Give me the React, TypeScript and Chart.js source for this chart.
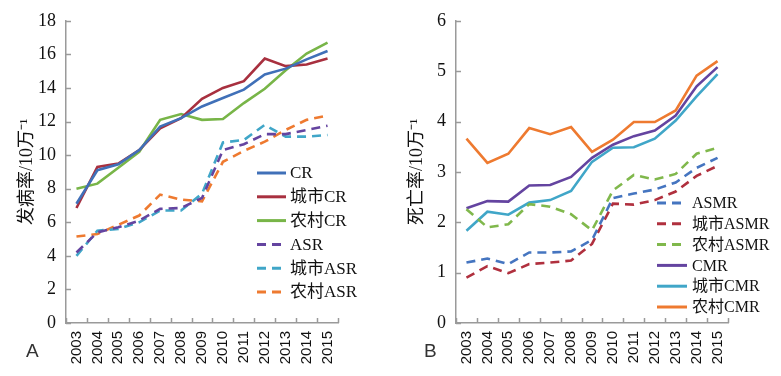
import React, { useEffect, useRef } from "react";
import { Chart, registerables } from "chart.js";
Chart.register(...registerables);

// ---------- data ----------
const years = ["2003", "2004", "2005", "2006", "2007", "2008", "2009", "2010", "2011", "2012", "2013", "2014", "2015"];

// Panel A: incidence (1/100,000)
const crAll = [7.1, 9.1, 9.45, 10.3, 11.7, 12.2, 12.9, 13.4, 13.9, 14.8, 15.15, 15.7, 16.2];
const crUrban = [6.85, 9.3, 9.5, 10.3, 11.6, 12.2, 13.35, 14.0, 14.4, 15.75, 15.3, 15.4, 15.75];
const crRural = [8.0, 8.3, 9.25, 10.2, 12.1, 12.45, 12.1, 12.15, 13.1, 13.95, 15.05, 16.05, 16.7];
const asrAll = [4.2, 5.4, 5.7, 6.1, 6.8, 6.85, 7.45, 10.3, 10.65, 11.25, 11.25, 11.5, 11.75];
const asrUrban = [4.0, 5.5, 5.6, 6.0, 6.7, 6.7, 7.7, 10.75, 10.9, 11.8, 11.1, 11.1, 11.2];
const asrRural = [5.15, 5.3, 5.85, 6.4, 7.65, 7.35, 7.25, 9.6, 10.25, 10.8, 11.5, 12.1, 12.35];
const ticksA = [0, 2, 4, 6, 8, 10, 12, 14, 16, 18];

// Panel B: mortality (1/100,000)
const asmrAll = [1.2, 1.28, 1.17, 1.4, 1.4, 1.42, 1.65, 2.48, 2.57, 2.65, 2.79, 3.08, 3.28];
const asmrUrban = [0.9, 1.13, 0.99, 1.17, 1.2, 1.24, 1.57, 2.37, 2.35, 2.44, 2.61, 2.92, 3.12];
const asmrRural = [2.26, 1.9, 1.96, 2.36, 2.31, 2.16, 1.84, 2.63, 2.94, 2.85, 2.96, 3.36, 3.48];
const cmrAll = [2.28, 2.42, 2.41, 2.73, 2.74, 2.9, 3.28, 3.54, 3.71, 3.82, 4.12, 4.7, 5.08];
const cmrUrban = [1.83, 2.21, 2.15, 2.39, 2.44, 2.62, 3.2, 3.48, 3.49, 3.66, 4.02, 4.5, 4.94];
const cmrRural = [3.66, 3.18, 3.36, 3.87, 3.75, 3.89, 3.4, 3.64, 3.99, 3.99, 4.22, 4.91, 5.2];
const ticksB = [0, 1, 2, 3, 4, 5, 6];

// ---------- styles ----------
const AXIS_COLOR = "#9a9a9a";
const TEXT_COLOR = "#111111";
const SERIF = "'Liberation Serif', 'Noto Sans CJK SC', serif";
const DASH = [9, 6];

const C = {
  blue: "#4070b8",
  red: "#a8303f",
  green: "#78b548",
  purple: "#6444a0",
  cyan: "#40a6c8",
  orange: "#ee7a30",
};

type Series = { label: string; data: number[]; color: string; dashed: boolean };

const seriesA: Series[] = [
  { label: "CR", data: crAll, color: C.blue, dashed: false },
  { label: "城市CR", data: crUrban, color: C.red, dashed: false },
  { label: "农村CR", data: crRural, color: C.green, dashed: false },
  { label: "ASR", data: asrAll, color: C.purple, dashed: true },
  { label: "城市ASR", data: asrUrban, color: C.cyan, dashed: true },
  { label: "农村ASR", data: asrRural, color: C.orange, dashed: true },
];

const seriesB: Series[] = [
  { label: "ASMR", data: asmrAll, color: "#4575c0", dashed: true },
  { label: "城市ASMR", data: asmrUrban, color: "#b0303e", dashed: true },
  { label: "农村ASMR", data: asmrRural, color: "#80b84c", dashed: true },
  { label: "CMR", data: cmrAll, color: C.purple, dashed: false },
  { label: "城市CMR", data: cmrUrban, color: C.cyan, dashed: false },
  { label: "农村CMR", data: cmrRural, color: C.orange, dashed: false },
];

// inward tick marks on both axes
const inwardTicks = {
  id: "inwardTicks",
  afterDraw(chart: any) {
    const { ctx, chartArea, scales } = chart;
    const xs = scales.x;
    const ys = scales.y;
    ctx.save();
    ctx.strokeStyle = AXIS_COLOR;
    ctx.lineWidth = 1.5;
    ctx.beginPath();
    const n = chart.data.labels.length;
    for (let i = 0; i <= n; i++) {
      const px = Math.round(xs.getPixelForValue(i - 0.5)) + 0.5;
      ctx.moveTo(px, chartArea.bottom);
      ctx.lineTo(px, chartArea.bottom - 5);
    }
    ys.ticks.forEach((t: any) => {
      const py = Math.round(ys.getPixelForValue(t.value)) + 0.5;
      ctx.moveTo(chartArea.left, py);
      ctx.lineTo(chartArea.left + 5, py);
    });
    ctx.stroke();
    ctx.restore();
  },
};

// custom legend drawn inside plot area
const insideLegend = {
  id: "insideLegend",
  afterDraw(chart: any, _args: any, opts: any) {
    const { ctx } = chart;
    ctx.save();
    ctx.font = `${opts.fontSize}px ${SERIF}`;
    ctx.textBaseline = "middle";
    ctx.fillStyle = TEXT_COLOR;
    chart.data.datasets.forEach((ds: any, i: number) => {
      const y = opts.y + i * opts.spacing;
      ctx.strokeStyle = ds.borderColor;
      ctx.lineWidth = 3;
      ctx.setLineDash(ds.borderDash || []);
      ctx.beginPath();
      ctx.moveTo(opts.x, y);
      ctx.lineTo(opts.x + opts.lineLen, y);
      ctx.stroke();
      ctx.setLineDash([]);
      ctx.fillText(ds.label, opts.x + opts.lineLen + opts.gap, y + 1);
    });
    ctx.restore();
  },
};

type PanelProps = {
  series: Series[];
  ticks: number[];
  max: number;
  title: string;
  legend: { x: number; y: number; spacing: number; lineLen: number; gap: number; fontSize: number };
  width: number;
  letter: string;
};

function Panel({ series, ticks, max, title, legend, width, letter }: PanelProps) {
  const ref = useRef<HTMLCanvasElement>(null);
  useEffect(() => {
    if (!ref.current) return;
    const chart = new Chart(ref.current, {
      type: "line",
      data: {
        labels: years,
        datasets: series.map((s) => ({
          label: s.label,
          data: s.data,
          borderColor: s.color,
          backgroundColor: s.color,
          borderWidth: 2.6,
          borderDash: s.dashed ? DASH : [],
          pointRadius: 0,
          tension: 0,
          fill: false,
        })),
      },
      options: {
        responsive: false,
        animation: false,
        devicePixelRatio: 1,
        layout: { padding: { left: 0, top: 19, right: width - 338, bottom: 0 } },
        plugins: {
          legend: { display: false },
          tooltip: { enabled: false },
          insideLegend: legend,
        } as any,
        scales: {
          x: {
            type: "category",
            offset: true,
            grid: { display: false, drawTicks: false, offset: true },
            border: { display: true, color: AXIS_COLOR, width: 1.5 },
            ticks: {
              minRotation: 90,
              maxRotation: 90,
              autoSkip: false,
              padding: 8,
              color: TEXT_COLOR,
              font: { family: "'Liberation Sans', Arial, sans-serif", size: 15 },
            },
            afterFit: (s: any) => {
              s.height = 376 - 323;
            },
          },
          y: {
            min: 0,
            max,
            afterBuildTicks: (s: any) => {
              s.ticks = ticks.map((v) => ({ value: v }));
            },
            grid: { display: false, drawTicks: false },
            border: { display: true, color: AXIS_COLOR, width: 1.5 },
            ticks: {
              padding: 10,
              color: TEXT_COLOR,
              font: { family: SERIF, size: 18 },
            },
            title: {
              display: true,
              text: title,
              color: TEXT_COLOR,
              padding: { top: 16, bottom: 0 },
              font: { family: SERIF, size: 18 },
            },
            afterFit: (s: any) => {
              s.width = 66;
            },
          },
        },
      },
      plugins: [inwardTicks, insideLegend],
    });
    return () => chart.destroy();
  }, []);
  return (
    <div style={{ position: "relative", width, height: 376 }}>
      <canvas ref={ref} width={width} height={376} style={{ display: "block" }} />
      <div
        style={{
          position: "absolute",
          left: letter === "A" ? 26 : 34,
          top: 340,
          fontFamily: "'Liberation Sans', Arial, sans-serif",
          fontSize: 19,
          color: "#333",
        }}
      >
        {letter}
      </div>
    </div>
  );
}

export default function App() {
  return (
    <div
      style={{
        position: "fixed",
        left: 0,
        top: 0,
        width: 781,
        height: 376,
        background: "#fff",
        display: "flex",
      }}
    >
      <Panel
        series={seriesA}
        ticks={ticksA}
        max={18}
        title="发病率/10万⁻¹"
        legend={{ x: 257, y: 173, spacing: 23.8, lineLen: 29, gap: 4, fontSize: 17 }}
        width={390}
        letter="A"
      />
      <Panel
        series={seriesB}
        ticks={ticksB}
        max={6}
        title="死亡率/10万⁻¹"
        legend={{ x: 267, y: 203, spacing: 20.8, lineLen: 30, gap: 5, fontSize: 16 }}
        width={391}
        letter="B"
      />
    </div>
  );
}
